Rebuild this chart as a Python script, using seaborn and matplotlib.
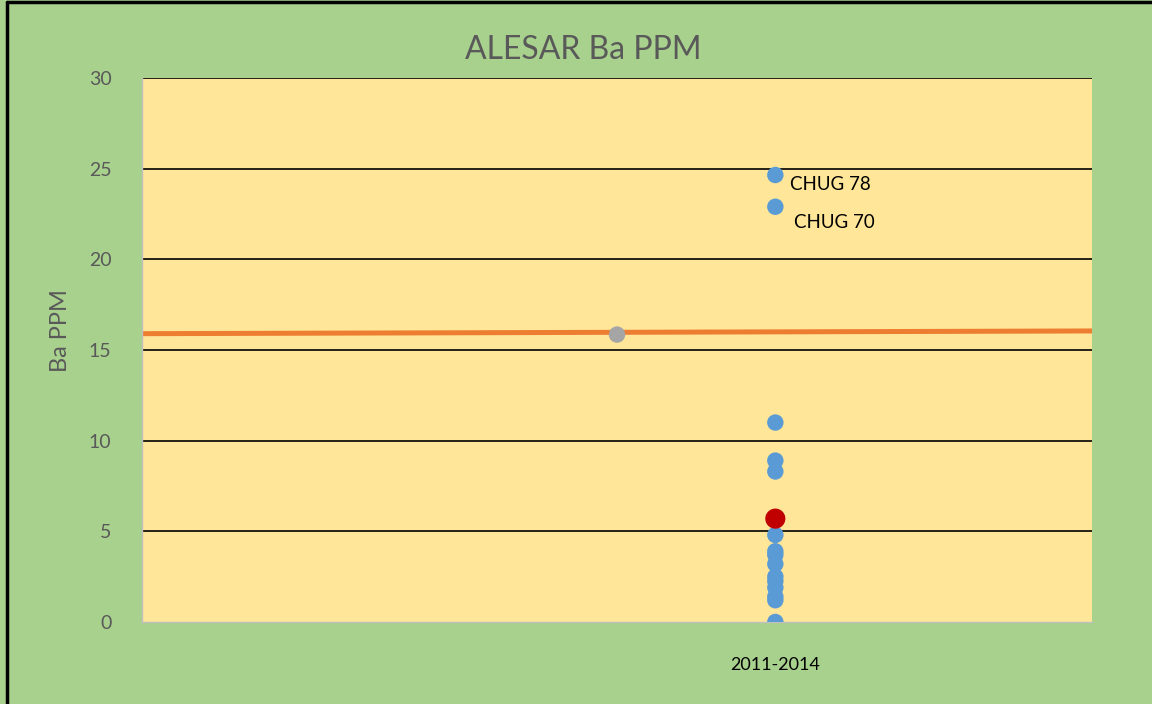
import matplotlib
matplotlib.use("Agg")
import matplotlib.pyplot as plt
import matplotlib.lines as mlines
import seaborn as sns
import pandas as pd

# data
period_x = 2.0
period_label = "2011-2014"
ba_ppm = [24.65, 22.9, 11.0, 8.9, 8.3, 4.8, 3.9, 3.7, 3.2, 2.5, 2.25, 1.9, 1.4, 1.2, 0.0]
highlight_ppm = 5.7
avg_x = 1.5
avg_ppm = 15.85
trend_x = [0.0, 3.0]
trend_ppm = [15.9, 16.05]
labels = {"CHUG 78": 24.65, "CHUG 70": 22.9}

sns.set_theme(style="white")
plt.rcParams["font.family"] = ["Lato", "DejaVu Sans"]

fig = plt.figure(figsize=(11.52, 7.04), dpi=100, facecolor="#A9D18E")
ax = fig.add_axes([0.1233, 0.1165, 0.8246, 0.7727])
ax.set_facecolor("#FFE699")

for y in range(5, 31, 5):
    ax.axhline(y, color="black", lw=1.2, zorder=1)

sns.lineplot(x=trend_x, y=trend_ppm, color="#ED7D31", lw=3.6, ax=ax, zorder=2)

df = pd.DataFrame({"x": [period_x] * len(ba_ppm), "ppm": ba_ppm})
sns.scatterplot(data=df, x="x", y="ppm", color="#5B9BD5", s=140, edgecolor="none", ax=ax, zorder=3)
sns.scatterplot(x=[avg_x], y=[avg_ppm], color="#A5A5A5", s=140, edgecolor="none", ax=ax, zorder=3)
sns.scatterplot(x=[period_x], y=[highlight_ppm], color="#C00000", s=210, edgecolor="none", ax=ax, zorder=4)

offsets = {"CHUG 78": (0.045, -0.55), "CHUG 70": (0.06, -0.85)}
for name, val in labels.items():
    dx, dy = offsets[name]
    ax.text(period_x + dx, val + dy, name, fontsize=13.5, color="black", va="center", ha="left")

ax.set_xlim(0, 3)
ax.set_ylim(0, 30)
ax.set_yticks(range(0, 31, 5))
ax.set_xticks([period_x])
ax.set_xticklabels([period_label], fontsize=13, color="black")
ax.tick_params(axis="y", labelsize=14, labelcolor="#595959", length=0, pad=22)
ax.tick_params(axis="x", length=0, pad=25)
ax.set_xlabel("")
ax.set_ylabel("Ba PPM", fontsize=17, color="#595959")
ax.yaxis.set_label_coords(-0.075, 0.535)
fig.text(583 / 1152, 1 - 50 / 704, "ALESAR Ba PPM", fontsize=23, color="#595959",
         ha="center", va="center")

for side in ["top", "right"]:
    ax.spines[side].set_visible(False)
for side in ["left", "bottom"]:
    ax.spines[side].set_color("#BFBFBF")
    ax.spines[side].set_linewidth(1.0)

# black frame on the left and top edges of the image
fig.add_artist(mlines.Line2D([0.006, 0.006], [0, 0.997], color="black", lw=2.5, transform=fig.transFigure))
fig.add_artist(mlines.Line2D([0.006, 1], [0.997, 0.997], color="black", lw=2.5, transform=fig.transFigure))

fig.savefig("out.png", dpi=100, facecolor=fig.get_facecolor())
